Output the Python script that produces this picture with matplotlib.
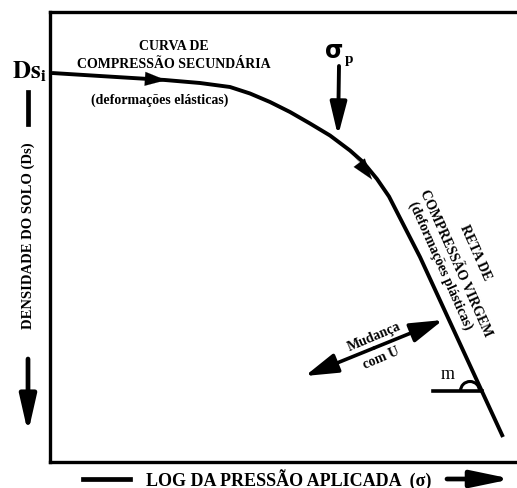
import matplotlib.pyplot as plt
from matplotlib.patches import Arc

plt.rcParams['font.family'] = ['Liberation Serif', 'DejaVu Serif']
plt.rcParams['mathtext.fontset'] = 'stix'

curva_x = [52, 100, 165, 200, 230, 250, 270, 290, 310, 330, 350, 363, 377, 389, 400, 420, 503]
curva_y = [74, 77, 81, 84, 88, 94.5, 103, 113, 124.5, 136.5, 151.5, 163, 180, 197.5, 219, 258, 438]

txt_curva = ['CURVA DE', 'COMPRESSÃO SECUNDÁRIA']
txt_elast = '(deformações elásticas)'
txt_reta = ['RETA DE', 'COMPRESSÃO VIRGEM', '(deformações plásticas)']
txt_mud = ['Mudança', 'com U']
txt_y = 'DENSIDADE DO SOLO (Ds)'
txt_x = 'LOG DA PRESSÃO APLICADA  (σ)'

W, H = 517, 489
fig = plt.figure(figsize=(W / 100, H / 100), dpi=100)
ax = fig.add_axes([50 / W, 26 / H, 467 / W, 450.3 / H])
ax.set_xlim(50, 517)
ax.set_ylim(463, 12.7)
ax.set_xticks([])
ax.set_yticks([])
for s in ['left', 'top', 'bottom']:
    ax.spines[s].set_linewidth(2.4)
ax.spines['right'].set_visible(False)

ax.plot(curva_x, curva_y, color='black', lw=2.8, solid_capstyle='butt',
        solid_joinstyle='round')


def seta(p0, p1, hl=1.6, hw=0.45, lw=2.4):
    ax.annotate('', xy=p1, xytext=p0, annotation_clip=False,
                arrowprops=dict(arrowstyle=f'-|>,head_length={hl},head_width={hw}',
                                mutation_scale=10, lw=lw, color='black',
                                shrinkA=0, shrinkB=0))


# setas sobre a curva
seta((140, 79.5), (166, 81.2), hl=1.5, hw=0.5, lw=0.1)
seta((350, 151.5), (372, 180.5), hl=1.5, hw=0.5, lw=0.1)

# sigma p
seta((339, 67), (338, 137), hl=2.0, hw=0.5, lw=2.8)
ax.text(334, 51, 'σ', fontsize=17, fontweight='bold', family='DejaVu Sans',
        ha='center', va='center')
ax.text(349, 60, 'p', fontsize=11, fontweight='bold', ha='center', va='center')

# textos da curva secundária
ax.text(174, 47, txt_curva[0], fontsize=10, fontweight='bold', ha='center', va='center')
ax.text(174, 65, txt_curva[1], fontsize=10, fontweight='bold', ha='center', va='center')
ax.text(160, 100, txt_elast, fontsize=10, fontweight='bold', ha='center', va='center')

# textos da reta virgem
ang = -66
ax.text(475, 253, txt_reta[0], fontsize=10, fontweight='bold', rotation=ang,
        rotation_mode='anchor', ha='center', va='center')
ax.text(456, 263, txt_reta[1], fontsize=10, fontweight='bold', rotation=ang,
        rotation_mode='anchor', ha='center', va='center')
ax.text(440, 266, txt_reta[2], fontsize=10, fontweight='bold', rotation=ang,
        rotation_mode='anchor', ha='center', va='center')

# mudança com U
seta((374, 349), (443, 321), hl=2.0, hw=0.6, lw=2.6)
seta((374, 349), (305, 377), hl=2.0, hw=0.6, lw=2.6)
ax.text(374, 337, txt_mud[0], fontsize=10, fontweight='bold', rotation=23,
        rotation_mode='anchor', ha='center', va='center')
ax.text(381, 358, txt_mud[1], fontsize=10, fontweight='bold', rotation=23,
        rotation_mode='anchor', ha='center', va='center')

# ângulo m
ax.plot([433, 482], [392, 392], color='black', lw=2.6)
ax.add_patch(Arc((470, 392), 19, 19, theta1=180, theta2=360, lw=2.2, color='black'))
ax.text(448, 375, 'm', fontsize=13, ha='center', va='center')

# eixo y
ax.text(29, 72, r'$\mathbf{Ds}_{\mathbf{i}}$', fontsize=18, ha='center', va='center',
        clip_on=False)
ax.plot([28, 28], [93, 125], color='black', lw=3.4, clip_on=False)
ax.text(28, 236, txt_y, fontsize=10.5, fontweight='bold', rotation=90,
        ha='center', va='center', clip_on=False)
seta((28, 360), (28, 434), hl=2.2, hw=0.5, lw=3.4)

# eixo x
ax.plot([83, 130], [480, 480], color='black', lw=3.4, clip_on=False)
ax.text(289, 480, txt_x, fontsize=13, fontweight='bold', ha='center', va='center',
        clip_on=False)
seta((447, 480), (512, 480), hl=2.4, hw=0.5, lw=3.4)

fig.savefig('out.png', dpi=100)
